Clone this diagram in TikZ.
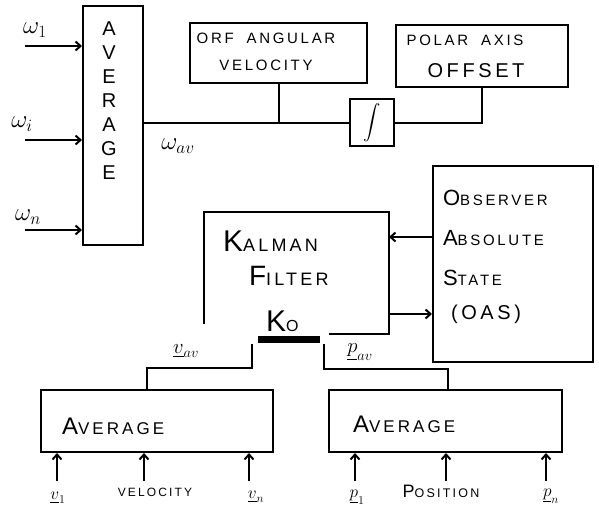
\documentclass[tikz,border=0pt]{standalone}
\usepackage{exscale}
\usepackage{fontspec}
\setmainfont{Liberation Sans}
\newfontfamily\hand[LetterSpace=18]{Liberation Sans}
\usetikzlibrary{arrows.meta}
% first letter drawn larger than the rest of the word
\newcommand\capw[3][22]{{\fontsize{#1}{#1}\selectfont #2}#3}

\begin{document}
\begin{tikzpicture}[>={Straight Barb[length=5pt,width=9pt]}, x=1pt, y=-1pt, line width=2pt,
    blk/.style={draw, inner sep=0pt},
    txt/.style={font=\hand\fontsize{15}{18}\selectfont, inner sep=0pt, align=left},
    sig/.style={font=\fontsize{26}{26}\selectfont, inner sep=0pt}]
    \useasboundingbox (0,0) rectangle (599,506);
    % rate averaging
    \node[blk, minimum width=60, minimum height=239] (avgw) at (113,125.5) {};
    \node[txt, font=\hand\fontsize{20}{24}\selectfont, align=center] (avgwtxt) at (109,101) {A\\V\\E\\R\\A\\G\\E};
    \node[sig] (w1) at (35,30) {$\omega_1$};
    \node[sig] (wi) at (22,124) {$\omega_i$};
    \node[sig] (wn) at (28,217) {$\omega_n$};
    \foreach \n/\y in {1/46, i/140, n/230} {
        \coordinate (win\n) at (25,\y);
        \draw[->] (win\n) -- (win\n -| avgw.west);
    }
    % angular velocity and polar axis
    \node[blk, minimum width=177, minimum height=60] (orf) at (278.5,53) {};
    \node[txt, align=center] (orftxt) at (266,52) {ORF\hspace{6pt} ANGULAR\\[9pt]VELOCITY};
    \node[blk, minimum width=172, minimum height=62] (polar) at (482,56) {};
    \node[txt] (polartxt) at (465,40) {POLAR\hspace{6pt} AXIS};
    \node[txt, font=\hand\fontsize{20}{20}\selectfont] (offtxt) at (476,71) {OFFSET};
    \node[blk, minimum width=44, minimum height=47, font=\fontsize{17}{17}\selectfont] (integ) at (372,122.5) {$\displaystyle\int$};
    \draw (avgw.east |- integ.west) -- (integ.west);
    \draw (orf.south) -- (orf.south |- integ.west);
    \draw (integ.east) -| (polar.south);
    \node[sig] (wav) at (178,146) {$\omega_{av}$};
    % observer and filter
    \node[blk, minimum width=160, minimum height=196] (oas) at (513,264) {};
    \node[txt, font=\hand\fontsize{15}{40}\selectfont, anchor=north west] (oastxt) at (442,189)
        {\capw{O}{BSERVER}\\\capw{A}{BSOLUTE}\\\capw{S}{TATE}\\[-6pt]\hspace*{8pt}{\fontsize{20}{20}\selectfont(OAS)}};
    \node[minimum width=183, minimum height=120, inner sep=0pt] (kal) at (296.5,273) {};
    \draw ([yshift=10pt]kal.south west) -- (kal.north west) -- (kal.north east) -- (kal.south east) -- ([xshift=-60pt]kal.south east);
    \node[txt, font=\hand\fontsize{18}{18}\selectfont, anchor=north west] (kaltxt) at (222,230)
        {\capw[30]{K}{ALMAN}\\[14pt]\hspace*{26pt}\capw[28]{F}{ILTER}\\[24pt]\hspace*{43pt}\capw[30]{K}{\fontsize{16}{16}\selectfont O}};
    \node[fill, minimum width=62, minimum height=7, inner sep=0pt] (gain) at (289,339) {};
    \draw[<-] ([yshift=-25pt]kal.north east) -- ([yshift=-25pt]kal.north east -| oas.west);
    \draw[->] ([yshift=20pt]kal.south east) -- ([yshift=20pt]kal.south east -| oas.west);
    % velocity and position averaging
    \node[blk, minimum width=232, minimum height=62] (avgv) at (157,421) {};
    \node[txt, font=\hand\fontsize{17}{17}\selectfont, anchor=west] (avgvtxt) at (61,426) {\capw[24]{A}{VERAGE}};
    \node[blk, minimum width=233, minimum height=62] (avgp) at (445.5,421) {};
    \node[txt, font=\hand\fontsize{17}{17}\selectfont, anchor=west] (avgptxt) at (352,424) {\capw[24]{A}{VERAGE}};
    \draw ([xshift=-5pt]gain.south west) -- ++(0,24) -| ([xshift=-10pt]avgv.north);
    \draw ([xshift=3pt]gain.south east) -- ++(0,25) -| ([xshift=2pt]avgp.north);
    \node[sig, font=\fontsize{20}{20}\selectfont] (vav) at (186,351) {$\underline{v}_{av}$};
    \node[sig, font=\fontsize{20}{20}\selectfont] (pav) at (360,352) {$\underline{p}_{av}$};
    \foreach \x [count=\i] in {57,144,249} {
        \coordinate (vin\i) at (\x,481);
        \draw[->] (vin\i) -- (vin\i |- avgv.south);
    }
    \foreach \x [count=\i] in {355,446,546} {
        \coordinate (pin\i) at (\x,481);
        \draw[->] (pin\i) -- (pin\i |- avgp.south);
    }
    \node[sig, font=\fontsize{18}{18}\selectfont] (v1) at (58,498) {$\underline{v}_1$};
    \node[txt, font=\hand\fontsize{12}{12}\selectfont] (veltxt) at (155,492) {VELOCITY};
    \node[sig, font=\fontsize{18}{18}\selectfont] (vn) at (256,497) {$\underline{v}_n$};
    \node[sig, font=\fontsize{18}{18}\selectfont] (p1) at (357,497) {$\underline{p}_1$};
    \node[txt, font=\hand\fontsize{12.5}{12.5}\selectfont] (postxt) at (441,491) {\capw[18]{P}{OSITION}};
    \node[sig, font=\fontsize{18}{18}\selectfont] (pn) at (551,496) {$\underline{p}_n$};
\end{tikzpicture}
\end{document}
